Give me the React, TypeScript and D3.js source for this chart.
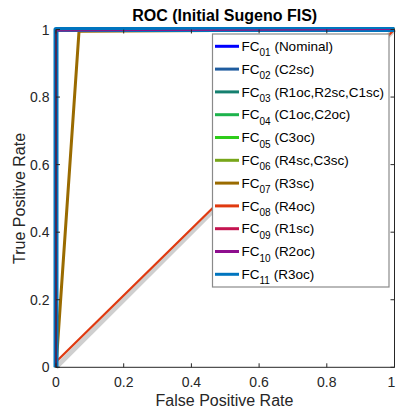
import React from 'react';
import * as d3 from 'd3';

const W = 396;
const H = 414;

const xTicks = [0, 0.2, 0.4, 0.6, 0.8, 1];
const yTicks = [0, 0.2, 0.4, 0.6, 0.8, 1];
const tickLabels = ['0', '0.2', '0.4', '0.6', '0.8', '1'];

const seriesIds = ['01', '02', '03', '04', '05', '06', '07', '08', '09', '10', '11'];
const seriesConds = ['Nominal', 'C2sc', 'R1oc,R2sc,C1sc', 'C1oc,C2oc', 'C3oc', 'R4sc,C3sc', 'R3sc', 'R4oc', 'R1sc', 'R2oc', 'R3oc'];
const seriesColors = ['#0000FF', '#1F5C9F', '#15806F', '#1DB34C', '#2ECC1A', '#77A61A', '#9A6B00', '#E03A10', '#C41450', '#8E0E8E', '#0075BF'];
const seriesFPR = [
  [0, 0, 1], [0, 0, 1], [0, 0, 1], [0, 0, 1], [0, 0, 1], [0, 0, 1],
  [0, 0.068, 1], [0, 0.004, 1], [0, 0, 1], [0, 0, 1], [0, 0, 1],
];
const seriesTPR = [
  [0, 1, 1], [0, 1, 1], [0, 1, 1], [0, 1, 1], [0, 1, 1], [0, 1, 1],
  [0, 0.995, 1], [0, 0.02, 1], [0, 0.996, 1], [0, 0.996, 1], [0, 1, 1],
];
const chanceFPR = [0, 1];
const chanceTPR = [0, 1];

export default function App() {
  const left = 56, right = 394.5, top = 29.5, bottom = 367.3;
  const x = d3.scaleLinear().domain([0, 1]).range([left, right]);
  const y = d3.scaleLinear().domain([0, 1]).range([bottom, top]);
  const line = d3.line<[number, number]>().x(d => x(d[0])).y(d => y(d[1]));
  const pts = (fx: number[], ty: number[]) => fx.map((v, i) => [v, ty[i]] as [number, number]);

  const widths = seriesIds.map((_, i) => (i === 10 ? 5 : i === 6 ? 3 : i === 7 ? 2.2 : i === 8 || i === 9 ? 0.8 : 2.5));
  const order = [0, 1, 2, 3, 4, 5, 6, 7, 10, 8, 9];

  const axisColor = '#262626';
  const font = 'Liberation Sans, Arial, Helvetica, sans-serif';

  const legX = 212.5, legY = 34, legW = 176.5, legH = 253;
  const rowY0 = 46.3, rowDy = 22.8;

  return (
    <svg width={W} height={H} style={{ position: 'absolute', left: 0, top: 0, background: '#fff' }} fontFamily={font}>
      <rect x={0} y={0} width={W} height={H} fill="#fff" />
      <path d={line(pts(chanceFPR, chanceTPR)) || ''} fill="none" stroke="#CFCFCF" strokeWidth={5} />
      {order.map(i => (
        <path key={i} d={line(pts(seriesFPR[i], seriesTPR[i])) || ''} fill="none"
          stroke={seriesColors[i]} strokeWidth={widths[i]} strokeLinejoin="round" />
      ))}
      <g stroke={axisColor} strokeWidth={1} fill="none">
        <line x1={left} y1={bottom} x2={right} y2={bottom} />
        <line x1={left} y1={top} x2={left} y2={bottom} />
        <line x1={right} y1={top} x2={right} y2={bottom} />
        {xTicks.map((t, i) => (
          <g key={'xt' + i}>
            <line x1={x(t)} y1={bottom} x2={x(t)} y2={bottom - 4} />
            <line x1={x(t)} y1={top} x2={x(t)} y2={top + 4} />
          </g>
        ))}
        {yTicks.map((t, i) => (
          <g key={'yt' + i}>
            <line x1={left} y1={y(t)} x2={left + 4} y2={y(t)} />
            <line x1={right} y1={y(t)} x2={right - 4} y2={y(t)} />
          </g>
        ))}
      </g>
      <g fill={axisColor} fontSize={14}>
        {xTicks.map((t, i) => (
          <text key={'xl' + i} x={Math.min(x(t), W - 4.5)} y={386.5} textAnchor="middle">{tickLabels[i]}</text>
        ))}
        {yTicks.map((t, i) => (
          <text key={'yl' + i} x={49.5} y={y(t) + 5} textAnchor="end">{tickLabels[i]}</text>
        ))}
      </g>
      <text x={224.5} y={406} textAnchor="middle" fontSize={16} fill={axisColor}>False Positive Rate</text>
      <text transform={`translate(25,${(top + bottom) / 2}) rotate(-90)`} textAnchor="middle" fontSize={16} fill={axisColor}>True Positive Rate</text>
      <text x={224.7} y={20.5} textAnchor="middle" fontSize={16} fontWeight="bold" fill="#000">ROC (Initial Sugeno FIS)</text>
      <rect x={legX} y={legY} width={legW} height={legH} fill="#fff" stroke="#8A8A8A" strokeWidth={1.2} />
      {seriesIds.map((id, i) => {
        const ry = rowY0 + i * rowDy;
        return (
          <g key={'lg' + i}>
            <line x1={215} x2={239} y1={ry} y2={ry} stroke={seriesColors[i]} strokeWidth={3} />
            <text x={241.5} y={ry + 4.6} fontSize={13.5} fill="#000">
              FC<tspan fontSize={10} dy={5.5}>{id}</tspan><tspan dy={-5.5}> ({seriesConds[i]})</tspan>
            </text>
          </g>
        );
      })}
    </svg>
  );
}
